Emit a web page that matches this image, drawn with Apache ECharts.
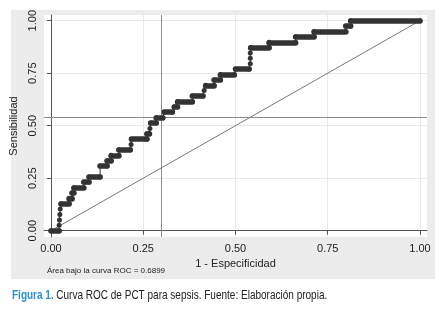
<!DOCTYPE html>
<html>
<head>
<meta charset="utf-8">
<script src="https://cdn.jsdelivr.net/npm/echarts@6/dist/echarts.min.js"></script>
<style>
  html, body { margin: 0; padding: 0; background: #fff; }
  #rocChart { width: 439px; height: 309px; }
</style>
</head>
<body>
<div id="rocChart"></div>
<script>
// ROC curve vertices (1 - specificity, sensitivity)
var fpr = [0.000, 0.022, 0.022, 0.023, 0.024, 0.025, 0.027, 0.049, 0.049, 0.057,
  0.057, 0.062, 0.062, 0.089, 0.089, 0.103, 0.103, 0.133, 0.133, 0.152,
  0.152, 0.163, 0.163, 0.184, 0.184, 0.215, 0.217, 0.218, 0.260, 0.260,
  0.267, 0.268, 0.270, 0.285, 0.285, 0.303, 0.307, 0.329, 0.334, 0.343,
  0.343, 0.383, 0.383, 0.412, 0.415, 0.419, 0.442, 0.442, 0.459, 0.459,
  0.497, 0.500, 0.537, 0.540, 0.540, 0.540, 0.541, 0.591, 0.591, 0.663,
  0.663, 0.713, 0.713, 0.799, 0.799, 0.812, 0.812, 1.000]
var tpr = [0.000, 0.000, 0.026, 0.051, 0.077, 0.103, 0.128, 0.128, 0.154, 0.154,
  0.179, 0.179, 0.205, 0.205, 0.231, 0.231, 0.256, 0.256, 0.308, 0.308,
  0.333, 0.333, 0.359, 0.359, 0.385, 0.385, 0.410, 0.436, 0.436, 0.462,
  0.462, 0.487, 0.513, 0.513, 0.538, 0.538, 0.564, 0.564, 0.590, 0.590,
  0.615, 0.615, 0.641, 0.641, 0.667, 0.692, 0.692, 0.718, 0.718, 0.744,
  0.744, 0.769, 0.769, 0.795, 0.821, 0.846, 0.872, 0.872, 0.897, 0.897,
  0.923, 0.923, 0.949, 0.949, 0.974, 0.974, 1.000, 1.000]
// chance line and chosen cut-off
var diagX = [0, 1]
var diagY = [0, 1]
var cutX = 0.3035
var cutY = 0.538
var tickValues = [0, 0.25, 0.5, 0.75, 1]
var aucText = 'Área bajo la curva ROC = 0.6899'

var chart = echarts.init(document.getElementById('rocChart'))

// build point list and the flat runs (same sensitivity on consecutive points)
var rocPoints = fpr.map(function (x, i) { return [x, tpr[i]] })
var runs = []
for (var i = 0; i < fpr.length - 1; i++) {
  if (tpr[i] === tpr[i + 1]) {
    runs.push({ coords: [[fpr[i], tpr[i]], [fpr[i + 1], tpr[i + 1]]] })
  }
}
var diagPoints = diagX.map(function (x, i) { return [x, diagY[i]] })

var markColor = '#333'
var axisColor = '#555'
var font = 'Liberation Sans, Arial, sans-serif'

var option = {
  backgroundColor: '#fff',
  animation: false,
  grid: {
    left: 44, top: 15, right: 12, bottom: 72,
    show: true, backgroundColor: '#fff', borderWidth: 0
  },
  graphic: [
    {
      type: 'rect', z: -10, silent: true,
      shape: { x: 11, y: 10, width: 424, height: 269 },
      style: { fill: '#ececec' }
    },
    {
      type: 'text', left: 47, top: 267, silent: true,
      style: { text: aucText, fontSize: 8, fontFamily: font, fill: '#222' }
    },
    {
      // caption below the chart, narrowed to look like the condensed print face
      type: 'text', x: 12, y: 289, scaleX: 0.77, silent: true,
      style: {
        text: '{b|Figura 1.} {n|Curva ROC de PCT para sepsis. Fuente: Elaboración propia.}',
        fontFamily: font,
        rich: {
          b: { fontSize: 13, fontWeight: 'bold', fill: '#2b8fd0', fontFamily: font },
          n: { fontSize: 13, fill: '#222', fontFamily: font }
        }
      }
    }
  ],
  xAxis: {
    type: 'value',
    min: -0.019, max: 1.019,
    name: '1 - Especificidad',
    nameLocation: 'middle',
    nameGap: 21,
    nameTextStyle: { fontSize: 11, color: '#222', fontFamily: font },
    axisLine: { show: true, lineStyle: { color: axisColor, width: 1 } },
    axisTick: { show: true, length: 4, customValues: tickValues, lineStyle: { color: axisColor } },
    axisLabel: {
      customValues: tickValues, margin: 6, fontSize: 11, color: '#222',
      fontFamily: font,
      formatter: function (v) { return v.toFixed(2) }
    },
    splitLine: { show: true, lineStyle: { color: '#e9e9e9', width: 1 } }
  },
  yAxis: {
    type: 'value',
    min: -0.03, max: 1.027,
    name: 'Sensibilidad',
    nameLocation: 'middle',
    nameGap: 24,
    nameTextStyle: { fontSize: 11, color: '#222', fontFamily: font },
    axisLine: { show: true, lineStyle: { color: axisColor, width: 1 } },
    axisTick: { show: true, length: 4, customValues: tickValues, lineStyle: { color: axisColor } },
    axisLabel: {
      customValues: tickValues, rotate: 90, margin: 6, fontSize: 11, color: '#222',
      fontFamily: font,
      formatter: function (v) { return v.toFixed(2) }
    },
    splitLine: { show: true, lineStyle: { color: '#e9e9e9', width: 1 } }
  },
  series: [
    {
      name: 'referencia',
      type: 'line',
      data: diagPoints,
      symbol: 'none',
      silent: true,
      lineStyle: { color: '#555', width: 0.8 },
      z: 2
    },
    {
      name: 'ROC',
      type: 'line',
      data: rocPoints,
      symbol: 'circle',
      symbolSize: 5,
      showAllSymbol: true,
      itemStyle: { color: markColor },
      lineStyle: { color: markColor, width: 1 },
      silent: true,
      z: 4,
      markLine: {
        silent: true,
        symbol: 'none',
        label: { show: false },
        lineStyle: { color: '#8c8c8c', width: 1, type: 'solid' },
        data: [{ xAxis: cutX }, { yAxis: cutY }]
      }
    },
    {
      name: 'tramos',
      type: 'lines',
      coordinateSystem: 'cartesian2d',
      data: runs,
      silent: true,
      lineStyle: { color: markColor, width: 5.5, opacity: 1, cap: 'round' },
      z: 5
    }
  ]
}
chart.setOption(option)
</script>
</body>
</html>
